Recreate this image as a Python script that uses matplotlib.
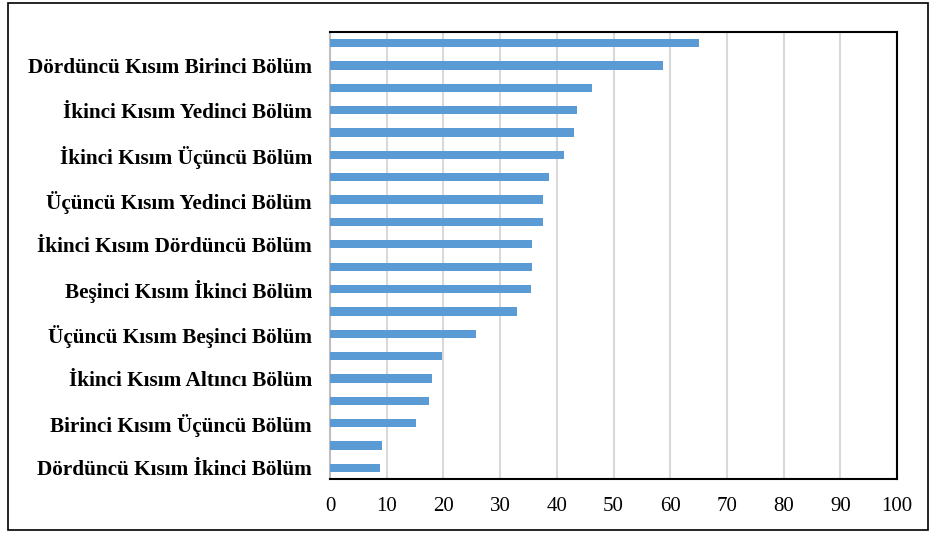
import matplotlib.pyplot as plt
from matplotlib.patches import Rectangle

# bars listed from top to bottom
values = [65.0, 58.7, 46.2, 43.6, 43.1, 41.2, 38.6, 37.6, 37.5, 35.7,
          35.7, 35.4, 32.9, 25.7, 19.7, 18.0, 17.4, 15.1, 9.1, 8.8]
# only every second category carries a visible label
labels = ['Dördüncü Kısım Birinci Bölüm',
          'İkinci Kısım Yedinci Bölüm',
          'İkinci Kısım Üçüncü Bölüm',
          'Üçüncü Kısım Yedinci Bölüm',
          'İkinci Kısım Dördüncü Bölüm',
          'Beşinci Kısım İkinci Bölüm',
          'Üçüncü Kısım Beşinci Bölüm',
          'İkinci Kısım Altıncı Bölüm',
          'Birinci Kısım Üçüncü Bölüm',
          'Dördüncü Kısım İkinci Bölüm']
xticks = list(range(0, 101, 10))

plt.rcParams['font.family'] = ['Liberation Serif', 'DejaVu Serif']

fig = plt.figure(figsize=(9.3, 5.33), dpi=100)
ax = fig.add_axes([330 / 930, 1 - 479 / 533, 567 / 930, 447 / 533])

n = len(values)
pos = [n - 1 - i for i in range(n)]
ax.barh(pos, values, height=0.37, color='#5b9bd5', zorder=3)

ax.set_xlim(0, 100)
ax.set_ylim(-0.5, n - 0.5)
ax.set_xticks(xticks)
ax.set_xticklabels([str(t) for t in xticks], fontsize=15)
ax.set_yticks(pos[1::2])
ax.set_yticklabels(labels, fontsize=15.3, fontweight='bold')
ax.tick_params(axis='y', length=0, pad=13)
ax.tick_params(axis='x', length=0, pad=13)
ax.xaxis.grid(True, color='#d9d9d9', linewidth=1.5, zorder=0)

for side in ['top', 'right', 'bottom']:
    ax.spines[side].set_color('black')
    ax.spines[side].set_linewidth(1.5)
ax.spines['left'].set_color('#bfbfbf')
ax.spines['left'].set_linewidth(1.5)

# outer chart border
fig.patches.append(Rectangle((8 / 930, 3 / 533), 920 / 930, 527 / 533,
                             transform=fig.transFigure, fill=False,
                             edgecolor='black', linewidth=1.2))

fig.savefig('out.png', dpi=100)
